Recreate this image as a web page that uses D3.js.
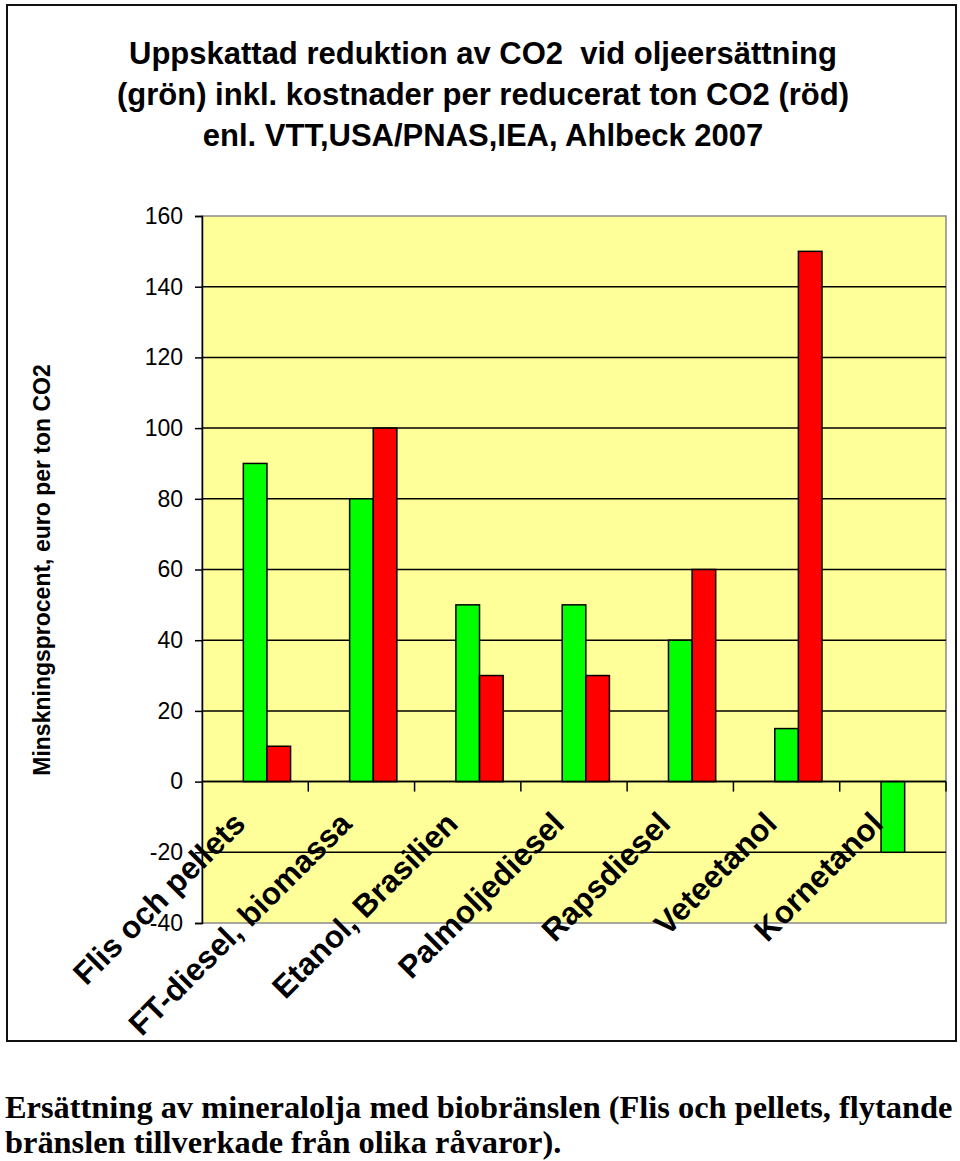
<!DOCTYPE html>
<html>
<head>
<meta charset="utf-8">
<script src="https://cdn.jsdelivr.net/npm/d3@7"></script>
<style>
  body { margin: 0; background: #fff; }
  svg { display: block; }
  text { white-space: pre; }
</style>
</head>
<body>
<script>
// data
var categories = ["Flis och pellets", "FT-diesel, biomassa", "Etanol, Brasilien", "Palmoljediesel", "Rapsdiesel", "Veteetanol", "Kornetanol"];
var seriesNames = ["tom", "minskning", "kostnad"]; // first series is empty in the original sheet
var minskning = [90, 80, 50, 50, 40, 15, -20]; // green
var kostnad = [10, 100, 30, 30, 60, 150, null]; // red
var yTicks = [-40, -20, 0, 20, 40, 60, 80, 100, 120, 140, 160];
var titleLines = ["Uppskattad reduktion av CO2  vid oljeersättning", "(grön) inkl. kostnader per reducerat ton CO2 (röd)", "enl. VTT,USA/PNAS,IEA, Ahlbeck 2007"];
var yTitle = "Minskningsprocent, euro per ton CO2";
var footerLines = ["Ersättning av mineralolja med biobränslen (Flis och pellets, flytande", "bränslen tillverkade från olika råvaror)."];

var W = 960, H = 1161;
var plot = { left: 202, right: 946, top: 216, bottom: 923 };

var svg = d3.select("body").append("svg")
    .attr("width", W)
    .attr("height", H);

svg.append("rect").attr("width", W).attr("height", H).attr("fill", "#fff");

// outer chart frame
svg.append("rect")
    .attr("x", 7).attr("y", 5)
    .attr("width", 949).attr("height", 1036)
    .attr("fill", "none")
    .attr("stroke", "#111")
    .attr("stroke-width", 2);

// title
svg.append("g").selectAll("text")
  .data(titleLines)
  .join("text")
    .attr("x", 483)
    .attr("y", (d, i) => 64 + i * 41)
    .attr("text-anchor", "middle")
    .attr("font-family", "Arial, 'Liberation Sans', sans-serif")
    .attr("font-weight", "bold")
    .attr("font-size", 31)
    .text(d => d);

// scales
var x = d3.scaleBand().domain(categories).range([plot.left, plot.right]).paddingInner(0).paddingOuter(0);
var xSub = d3.scaleBand().domain(seriesNames).range([0, x.bandwidth()]).paddingInner(0).paddingOuter(0.75);
var y = d3.scaleLinear().domain([-40, 160]).range([plot.bottom, plot.top]);

// plot area
svg.append("rect")
    .attr("x", plot.left).attr("y", plot.top)
    .attr("width", plot.right - plot.left).attr("height", plot.bottom - plot.top)
    .attr("fill", "#ffff99")
    .attr("stroke", "#8a8a8a")
    .attr("stroke-width", 1.5);

// gridlines
svg.append("g").selectAll("line")
  .data(yTicks.filter(d => d > -40 && d < 160))
  .join("line")
    .attr("x1", plot.left).attr("x2", plot.right)
    .attr("y1", d => y(d)).attr("y2", d => y(d))
    .attr("stroke", "#000")
    .attr("stroke-width", 1.5);

// y axis
var yAxis = svg.append("g")
    .attr("transform", "translate(" + plot.left + ",0)")
    .call(d3.axisLeft(y).tickValues(yTicks).tickSize(7).tickPadding(12).tickFormat(d3.format("d")));
yAxis.select(".domain").attr("stroke", "#000").attr("stroke-width", 1.5);
yAxis.selectAll(".tick line").attr("stroke", "#000").attr("stroke-width", 1.5);
yAxis.selectAll(".tick text")
    .attr("font-family", "Arial, 'Liberation Sans', sans-serif")
    .attr("font-size", 23)
    .attr("fill", "#000")
    .text(d => d < 0 ? "-" + Math.abs(d) : d);

// bars
var series = [
  { key: "minskning", values: minskning, color: "#00ff00" },
  { key: "kostnad", values: kostnad, color: "#ff0000" }
];
var groups = svg.append("g").selectAll("g")
  .data(series)
  .join("g")
    .attr("fill", d => d.color);
groups.selectAll("rect")
  .data(d => d.values.map((v, i) => ({ key: d.key, cat: categories[i], v: v })).filter(b => b.v != null))
  .join("rect")
    .attr("x", b => x(b.cat) + xSub(b.key))
    .attr("width", xSub.bandwidth())
    .attr("y", b => y(Math.max(0, b.v)))
    .attr("height", b => Math.abs(y(b.v) - y(0)))
    .attr("stroke", "#000")
    .attr("stroke-width", 1.5);

// category axis at zero
var xAxis = svg.append("g")
    .attr("transform", "translate(0," + y(0) + ")");
xAxis.append("line")
    .attr("x1", plot.left).attr("x2", plot.right)
    .attr("stroke", "#000").attr("stroke-width", 1.5);
xAxis.selectAll("line.tick")
  .data(categories)
  .join("line")
    .attr("class", "tick")
    .attr("x1", d => x(d) + x.bandwidth()).attr("x2", d => x(d) + x.bandwidth())
    .attr("y1", 0).attr("y2", 10)
    .attr("stroke", "#000").attr("stroke-width", 1.5);
xAxis.selectAll("text")
  .data(categories)
  .join("text")
    .attr("transform", d => "translate(" + (x(d) + x.bandwidth() / 2 - 8) + "," + 44 + ") rotate(-45)")
    .attr("text-anchor", "end")
    .attr("font-family", "Arial, 'Liberation Sans', sans-serif")
    .attr("font-weight", "bold")
    .attr("font-size", 31.5)
    .text(d => d);

// y axis title
svg.append("text")
    .attr("transform", "translate(50," + 570 + ") rotate(-90)")
    .attr("text-anchor", "middle")
    .attr("font-family", "Arial, 'Liberation Sans', sans-serif")
    .attr("font-weight", "bold")
    .attr("font-size", 23)
    .text(yTitle);

// footer caption
svg.append("g").selectAll("text")
  .data(footerLines)
  .join("text")
    .attr("x", 5)
    .attr("y", (d, i) => 1118 + i * 35)
    .attr("font-family", "'Times New Roman', 'Liberation Serif', serif")
    .attr("font-weight", "bold")
    .attr("font-size", 32.4)
    .text(d => d);
</script>
</body>
</html>
